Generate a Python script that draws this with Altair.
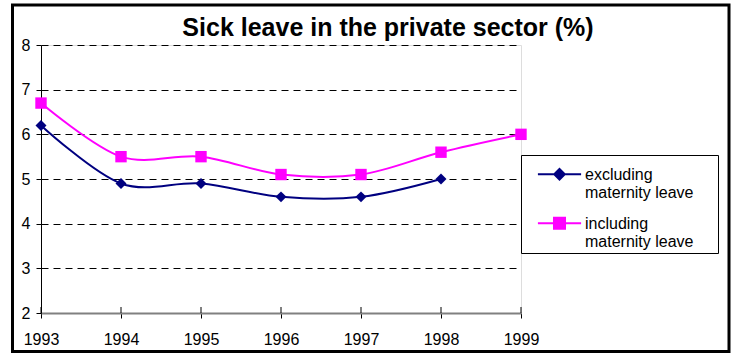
import altair as alt
import pandas as pd

# ---- data ----
years = [1993, 1994, 1995, 1996, 1997, 1998, 1999]
excluding = [6.2, 4.9, 4.9, 4.6, 4.6, 5.0, None]
including = [6.7, 5.5, 5.5, 5.1, 5.1, 5.6, 6.0]
series_names = ["excluding maternity leave", "including maternity leave"]
series_colors = ["#000080", "#FF00FF"]
series_markers = ["diamond", "square"]
marker_sizes = [120, 130]
y_ticks = [2, 3, 4, 5, 6, 7, 8]
title_text = "Sick leave in the private sector (%)"

rows = []
for yr, e, i in zip(years, excluding, including):
    if e is not None:
        rows.append({"year": yr, "value": e, "series": series_names[0]})
    if i is not None:
        rows.append({"year": yr, "value": i, "series": series_names[1]})
df = pd.DataFrame(rows)
years_df = pd.DataFrame({"year": years})
one_df = pd.DataFrame({"k": [0]})

FONT = "Arial, Liberation Sans, sans-serif"
W, H = 480, 268

color_scale = alt.Scale(domain=series_names, range=series_colors)
# legend symbols: line segment + marker (custom paths; unit = 8px), shifted to sit on
# the first label line; the trailing move-to widens the legend box to the right
legend_shapes = [
    "M-2.7,0.9H2.7M0,0.24L0.66,0.9L0,1.56L-0.66,0.9ZM18.9,0.9",
    "M-2.7,0.9H2.7M-0.69,0.21H0.69V1.59H-0.69ZM18.9,0.9",
]
shape_scale = alt.Scale(domain=series_names, range=legend_shapes)

x_enc = alt.X(
    "year:Q",
    scale=alt.Scale(domain=[1993, 1999], nice=False, zero=False),
    axis=alt.Axis(
        values=years, format="d", title=None, grid=False,
        domainColor="#808080", domainWidth=2, tickColor="black", tickSize=5,
        labelPadding=13, labelFontSize=16, labelFont=FONT, labelColor="black",
        labelFlush=False,
    ),
)
y_enc = alt.Y(
    "value:Q",
    scale=alt.Scale(domain=[2, 8], nice=False, zero=False),
    axis=alt.Axis(
        values=y_ticks, title=None, grid=True, gridColor="black", gridDash=[7, 5],
        gridOpacity={"condition": {"test": "datum.value === 2", "value": 0}, "value": 1},
        domainColor="black", tickColor="black", tickSize=5, labelPadding=6,
        labelFontSize=16, labelFont=FONT, labelColor="black",
    ),
)

layers = []
for name, col, mk, sz in zip(series_names, series_colors, series_markers, marker_sizes):
    base = alt.Chart(df).transform_filter(alt.datum.series == name)
    layers.append(
        base.mark_line(interpolate="cardinal", strokeWidth=2, color=col).encode(x=x_enc, y=y_enc)
    )
    layers.append(
        base.mark_point(filled=True, opacity=1, size=sz, shape=mk, color=col).encode(
            x="year:Q", y="value:Q"
        )
    )

leg = alt.Legend(
    title=None, orient="none", legendX=480, legendY=110, direction="vertical",
    strokeColor="black", fillColor="white", padding=3,
    labelFontSize=16, labelFont=FONT, labelColor="black", labelLimit=0,
    labelBaseline="top", labelOffset=16.5, symbolOffset=26.5,
    symbolSize=256, symbolStrokeWidth=2, rowPadding=6,
    labelExpr=(
        "[slice(datum.label, 0, indexof(datum.label, ' ')), "
        "slice(datum.label, indexof(datum.label, ' ') + 1)]"
    ),
)
legend_layer = alt.Chart(df).mark_point(filled=True, opacity=1, strokeWidth=2).encode(
    x="year:Q", y="value:Q",
    color=alt.Color("series:N", scale=color_scale, legend=leg),
    stroke=alt.Stroke("series:N", scale=color_scale, legend=leg),
    shape=alt.Shape("series:N", scale=shape_scale, legend=leg),
).transform_filter("false")

up_ticks = alt.Chart(years_df).mark_rule(color="black", strokeWidth=1).encode(
    x="year:Q", y=alt.value(H - 6), y2=alt.value(H)
)

frame = alt.Chart(one_df).mark_rect(
    fill="transparent", stroke="black", strokeWidth=3, clip=False
).encode(
    x=alt.value(-28.5), x2=alt.value(688), y=alt.value(-40), y2=alt.value(306.5)
)

title_mark = alt.Chart(one_df).mark_text(
    font=FONT, fontSize=25, fontWeight="bold", color="black",
    align="center", baseline="alphabetic",
).encode(x=alt.value(347), y=alt.value(-9), text=alt.value(title_text))

chart = alt.layer(*layers, up_ticks, legend_layer, frame, title_mark).properties(
    width=W, height=H,
    autosize=alt.AutoSizeParams(type="none"),
    padding={"left": 41, "top": 45, "right": 210, "bottom": 41},
).configure_view(stroke=None).configure(background="white")

chart.save("out.html", embed_options={"renderer": "svg", "actions": False})
